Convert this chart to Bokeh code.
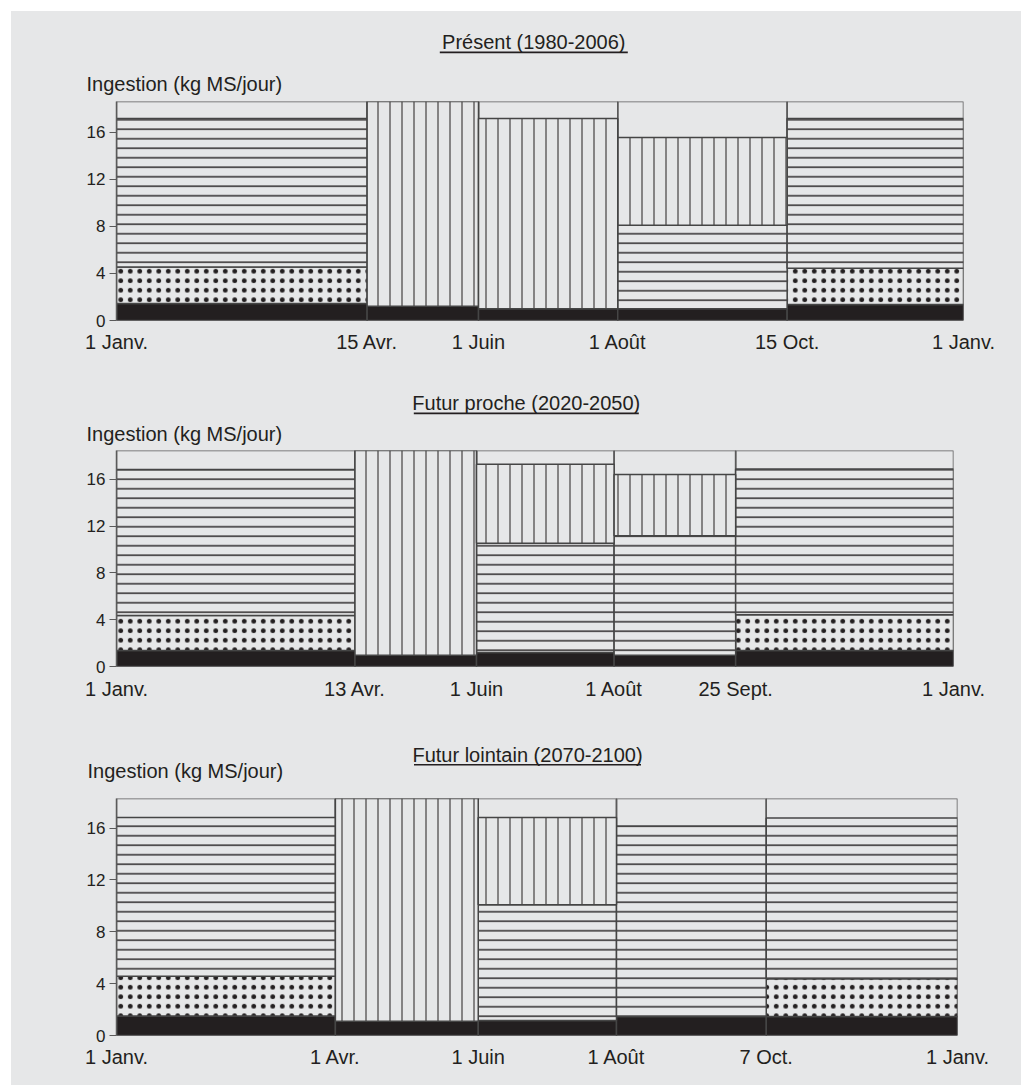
import numpy as np
from bokeh.plotting import figure
from bokeh.layouts import column
from bokeh.models import Range1d, FixedTicker
from bokeh.core.properties import value
from bokeh.embed import file_html
from bokeh.resources import INLINE

BG = "#e6e7e8"
INK = "#231f20"
EDGE = "#454545"
FONT = "Liberation Sans"
YLABEL = "Ingestion (kg MS/jour)"
Y_TICKS = [0, 4, 8, 12, 16]

# ---- Panel 1 : Présent (1980-2006) ----
p1_title = "Présent (1980-2006)"
p1_bounds = [0, 108, 156, 216, 289, 365]          # day of year
p1_labels = ["1 Janv.", "15 Avr.", "1 Juin", "1 Août", "15 Oct.", "1 Janv."]
p1_black = [1.45, 1.2, 1.0, 1.0, 1.35]
p1_dots = [3.1, 0, 0, 0, 3.08]
p1_horiz = [12.6, 0, 0, 7.1, 12.72]
p1_vert = [0, 17.4, 16.15, 7.45, 0]
p1_ymax = 18.6

# ---- Panel 2 : Futur proche (2020-2050) ----
p2_title = "Futur proche (2020-2050)"
p2_bounds = [0, 104, 157, 217, 270, 365]
p2_labels = ["1 Janv.", "13 Avr.", "1 Juin", "1 Août", "25 Sept.", "1 Janv."]
p2_black = [1.36, 0.97, 1.19, 0.97, 1.36]
p2_dots = [2.99, 0, 0, 0, 3.05]
p2_horiz = [12.48, 0, 9.33, 10.2, 12.47]
p2_vert = [0, 17.48, 6.76, 5.23, 0]
p2_ymax = 18.45

# ---- Panel 3 : Futur lointain (2070-2100) ----
p3_title = "Futur lointain (2070-2100)"
p3_bounds = [0, 95, 157, 217, 282, 365]
p3_labels = ["1 Janv.", "1 Avr.", "1 Juin", "1 Août", "7 Oct.", "1 Janv."]
p3_black = [1.51, 1.1, 1.16, 1.46, 1.46]
p3_dots = [3.06, 0, 0, 0, 2.91]
p3_horiz = [12.25, 0, 8.93, 14.7, 12.4]
p3_vert = [0, 17.18, 6.73, 0, 0]
p3_ymax = 18.28

PAGE_LEFT = 11
PAGE_RIGHT = 1021
FIG_W = PAGE_RIGHT - PAGE_LEFT
TEXT_SHIFT = 6.5   # glyph-baseline correction (px)


def make_header(title, top, bottom, title_cx, title_base, title_w, ylab_x, ylab_base):
    """Header strip drawn in page-pixel coordinates (y downwards)."""
    p = figure(width=FIG_W, height=bottom - top, output_backend="svg", toolbar_location=None,
               x_range=Range1d(PAGE_LEFT, PAGE_RIGHT), y_range=Range1d(bottom, top),
               x_axis_type=None, y_axis_type=None, min_border=0)
    p.frame_align = False
    p.background_fill_color = BG
    p.border_fill_color = BG
    p.outline_line_color = None
    p.grid.visible = False
    p.text(x=[title_cx], y=[title_base - TEXT_SHIFT], text=[title], text_font=value(FONT),
           text_font_size=value("20px"), text_color=INK, text_align="center",
           text_baseline="alphabetic")
    p.segment(x0=[title_cx - title_w / 2], y0=[title_base + 3.6],
              x1=[title_cx + title_w / 2], y1=[title_base + 3.6],
              line_color=INK, line_width=1.6)
    p.text(x=[ylab_x], y=[ylab_base - TEXT_SHIFT], text=[YLABEL], text_font=value(FONT),
           text_font_size=value("20px"), text_color=INK, text_align="left",
           text_baseline="alphabetic")
    return p


def make_chart(bounds, labels, black, dots, horiz, vert, ymax,
               height, top, bottom, right, x_standoff):
    p = figure(width=FIG_W, height=height, output_backend="svg", toolbar_location=None,
               x_range=Range1d(0, bounds[-1]), y_range=Range1d(0, ymax),
               min_border_left=116 - PAGE_LEFT, min_border_right=right,
               min_border_top=top, min_border_bottom=bottom)
    p.frame_align = False
    p.background_fill_color = BG
    p.border_fill_color = BG
    p.outline_line_color = None
    p.grid.visible = False

    left = np.array(bounds[:-1], dtype=float)
    right_ = np.array(bounds[1:], dtype=float)

    # full-height period boxes
    p.quad(left=left, right=right_, bottom=0, top=ymax, fill_color=None,
           line_color="#5a5a5a", line_width=1.5)

    layers = [np.array(black), np.array(dots), np.array(horiz), np.array(vert)]
    styles = [
        dict(fill_color=INK),
        dict(fill_color=BG, hatch_pattern="dot", hatch_color=INK, hatch_scale=9.5, hatch_weight=1),
        dict(fill_color=BG, hatch_pattern="horizontal_line", hatch_color=INK, hatch_scale=9.5, hatch_weight=1.4),
        dict(fill_color=BG, hatch_pattern="vertical_line", hatch_color=INK, hatch_scale=12, hatch_weight=1),
    ]
    base = np.zeros(len(left))
    for amt, st in zip(layers, styles):
        m = amt > 0
        p.quad(left=left[m], right=right_[m], bottom=base[m], top=(base + amt)[m],
               line_color=EDGE, line_width=1.5, **st)
        base = base + amt

    # y axis
    p.yaxis.ticker = FixedTicker(ticks=Y_TICKS)
    p.yaxis.bounds = (0, ymax)
    p.yaxis.axis_line_color = "#5a5a5a"
    p.yaxis.axis_line_width = 1.5
    p.yaxis.major_tick_line_color = "#5a5a5a"
    p.yaxis.major_tick_out = 7
    p.yaxis.major_tick_in = 0
    p.yaxis.minor_tick_line_color = None
    p.yaxis.major_label_text_font = FONT
    p.yaxis.major_label_text_font_size = "17px"
    p.yaxis.major_label_text_color = INK
    p.yaxis.major_label_standoff = 4

    # x axis : date labels at period boundaries
    p.xaxis.ticker = FixedTicker(ticks=list(bounds))
    p.xaxis.major_label_overrides = {b: l for b, l in zip(bounds, labels)}
    p.xaxis.axis_line_color = None
    p.xaxis.major_tick_line_color = None
    p.xaxis.major_tick_out = 0
    p.xaxis.major_tick_in = 0
    p.xaxis.minor_tick_line_color = None
    p.xaxis.minor_tick_out = 0
    p.xaxis.major_label_text_font = FONT
    p.xaxis.major_label_text_font_size = "20px"
    p.xaxis.major_label_text_color = INK
    p.xaxis.major_label_standoff = x_standoff
    return p


h1 = make_header(p1_title, 11, 95, title_cx=533.3, title_base=48.3, title_w=188,
                 ylab_x=86, ylab_base=90)
c1 = make_chart(p1_bounds, p1_labels, p1_black, p1_dots, p1_horiz, p1_vert, p1_ymax,
                height=265, top=6, bottom=40, right=58, x_standoff=10)
h2 = make_header(p2_title, 360, 445, title_cx=525.8, title_base=409.3, title_w=225,
                 ylab_x=86, ylab_base=440)
c2 = make_chart(p2_bounds, p2_labels, p2_black, p2_dots, p2_horiz, p2_vert, p2_ymax,
                height=270, top=5, bottom=49, right=68, x_standoff=11)
h3 = make_header(p3_title, 715, 792, title_cx=527, title_base=760.7, title_w=227,
                 ylab_x=87, ylab_base=777.3)
c3 = make_chart(p3_bounds, p3_labels, p3_black, p3_dots, p3_horiz, p3_vert, p3_ymax,
                height=293, top=6, bottom=50, right=64, x_standoff=10)

layout = column(h1, c1, h2, c2, h3, c3, spacing=0, margin=(PAGE_LEFT, 0, 0, PAGE_LEFT),
                styles={"background-color": BG})
open("out.html", "w").write(file_html(layout, INLINE))
